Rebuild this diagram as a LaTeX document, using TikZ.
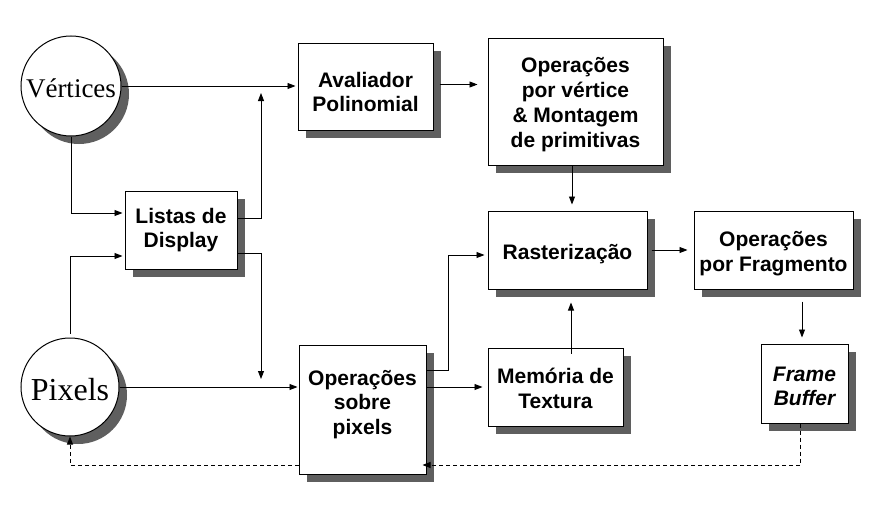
\documentclass[tikz,border=0pt]{standalone}
\usepackage{fontspec}
\setmainfont{Liberation Sans}
\newfontfamily\serifrm{Liberation Serif}
\usetikzlibrary{arrows.meta,shadows}
\definecolor{shadowc}{HTML}{5F5F5F}
\begin{document}
\begin{tikzpicture}[x=1pt,y=-1pt,
  shad/.style={drop shadow={shadow xshift=8pt,shadow yshift=-8pt,fill=shadowc,opacity=1}},
  box/.style={draw,line width=1pt,fill=white,rectangle,inner sep=0pt,shad},
  circ/.style={draw,circle,line width=1pt,fill=white,inner sep=0pt,shad},
  txt/.style={align=center,inner sep=0pt,font=\fontsize{21}{24.5}\selectfont\bfseries},
  itxt/.style={txt,font=\fontsize{21}{24.5}\selectfont\bfseries\itshape},
  ctxt/.style={inner sep=0pt,font=\serifrm\fontsize{#1}{#1}\selectfont},
  arr/.style={line width=0.9pt,-{Triangle[length=8pt,width=6pt]}},
  dsh/.style={arr,dash pattern=on 4pt off 3pt}]
\useasboundingbox (0,0) rectangle (879,506);
% shapes
\node[circ,minimum size=100pt] (vert) at (71,86) {};
\node[circ,minimum size=98pt] (pix) at (70,387) {};
\node[box,minimum width=112pt,minimum height=78pt] (lst) at (181,230) {};
\node[box,minimum width=135pt,minimum height=87pt] (aval) at (365.5,86.5) {};
\node[box,minimum width=175pt,minimum height=127pt] (opvert) at (575.5,101.5) {};
\node[box,minimum width=159pt,minimum height=78pt] (rast) at (567.5,250) {};
\node[box,minimum width=159pt,minimum height=78pt] (frag) at (773.5,250) {};
\node[box,minimum width=135pt,minimum height=78pt] (mem) at (555.5,387) {};
\node[box,minimum width=87pt,minimum height=79pt] (fb) at (804.5,383.5) {};
\node[box,minimum width=127pt,minimum height=129pt] (opspix) at (362.5,409.5) {};
% texts
\node[ctxt=27] (vert-t) at ([yshift=-2.5pt]vert.center) {Vértices};
\node[ctxt=32] (pix-t) at ([yshift=-2.5pt]pix.center) {Pixels};
\node[txt] (lst-t) at (lst.center) {Listas de\\Display};
\node[txt] (aval-t) at ([yshift=-5.5pt]aval.center) {Avaliador\\Polinomial};
\node[txt,font=\fontsize{21}{25}\selectfont\bfseries] (opvert-t) at ([yshift=-3.5pt]opvert.center) {Operações\\por vértice\\\& Montagem\\de primitivas};
\node[txt] (rast-t) at ([yshift=-4pt]rast.center) {Rasterização};
\node[txt] (frag-t) at ([yshift=-3.5pt]frag.center) {Operações\\por Fragmento};
\node[txt] (mem-t) at ([yshift=-1.5pt]mem.center) {Memória de\\Textura};
\node[itxt] (fb-t) at ([yshift=-3pt]fb.center) {Frame\\Buffer};
\node[txt] (opspix-t) at ([yshift=5pt]opspix.center) {Operações\\sobre\\pixels};
% free ends
\coordinate (up1) at (261,93);
\coordinate (dn1) at (261,379);
% connectors
\draw[arr,shorten >=2pt] (vert.east) -- (vert.east -| aval.west);
\draw[arr] ([yshift=12pt]lst.east) -| (up1);
\draw[arr,shorten >=2pt] (vert.south) |- ([yshift=17pt]lst.west);
\draw[arr,shorten <=4pt,shorten >=2pt] (pix.north) |- ([yshift=-26pt]lst.west);
\draw[arr] ([yshift=-23pt]lst.east) -| (dn1);
\draw[arr,shorten >=1pt] (pix.east) -- (pix.east -| opspix.west);
\draw[arr,shorten >=3pt] ([yshift=39pt]opspix.east) -- ++(22,0) |- ([yshift=-5pt]rast.west);
\draw[arr,shorten >=5pt] (mem.west -| opspix.east) -- (mem.west);
\draw[arr,shorten <=-6pt,shorten >=13pt] ([xshift=15.5pt]mem.north) -- ([xshift=15.5pt]mem.north |- rast.south);
\draw[arr,shorten >=6pt] ([xshift=-3.5pt]opvert.south) -- ([xshift=-3.5pt]opvert.south |- rast.north);
\draw[arr,shorten <=4pt,shorten >=6pt] (rast.east) -- (frag.west);
\draw[arr,shorten <=12pt,shorten >=6pt] ([xshift=-2.5pt]fb.north |- frag.south) -- ([xshift=-2.5pt]fb.north);
\draw[arr,shorten <=6pt,shorten >=10pt] ([yshift=2pt]aval.east) -- ([yshift=2pt]aval.east -| opvert.west);
\draw[dsh,shorten >=-4pt] ([xshift=-4pt]fb.south) |- ([yshift=-55.5pt]opspix.east);
\draw[dsh] ([yshift=-55.5pt]opspix.west) -| (pix.south);
\end{tikzpicture}
\end{document}
